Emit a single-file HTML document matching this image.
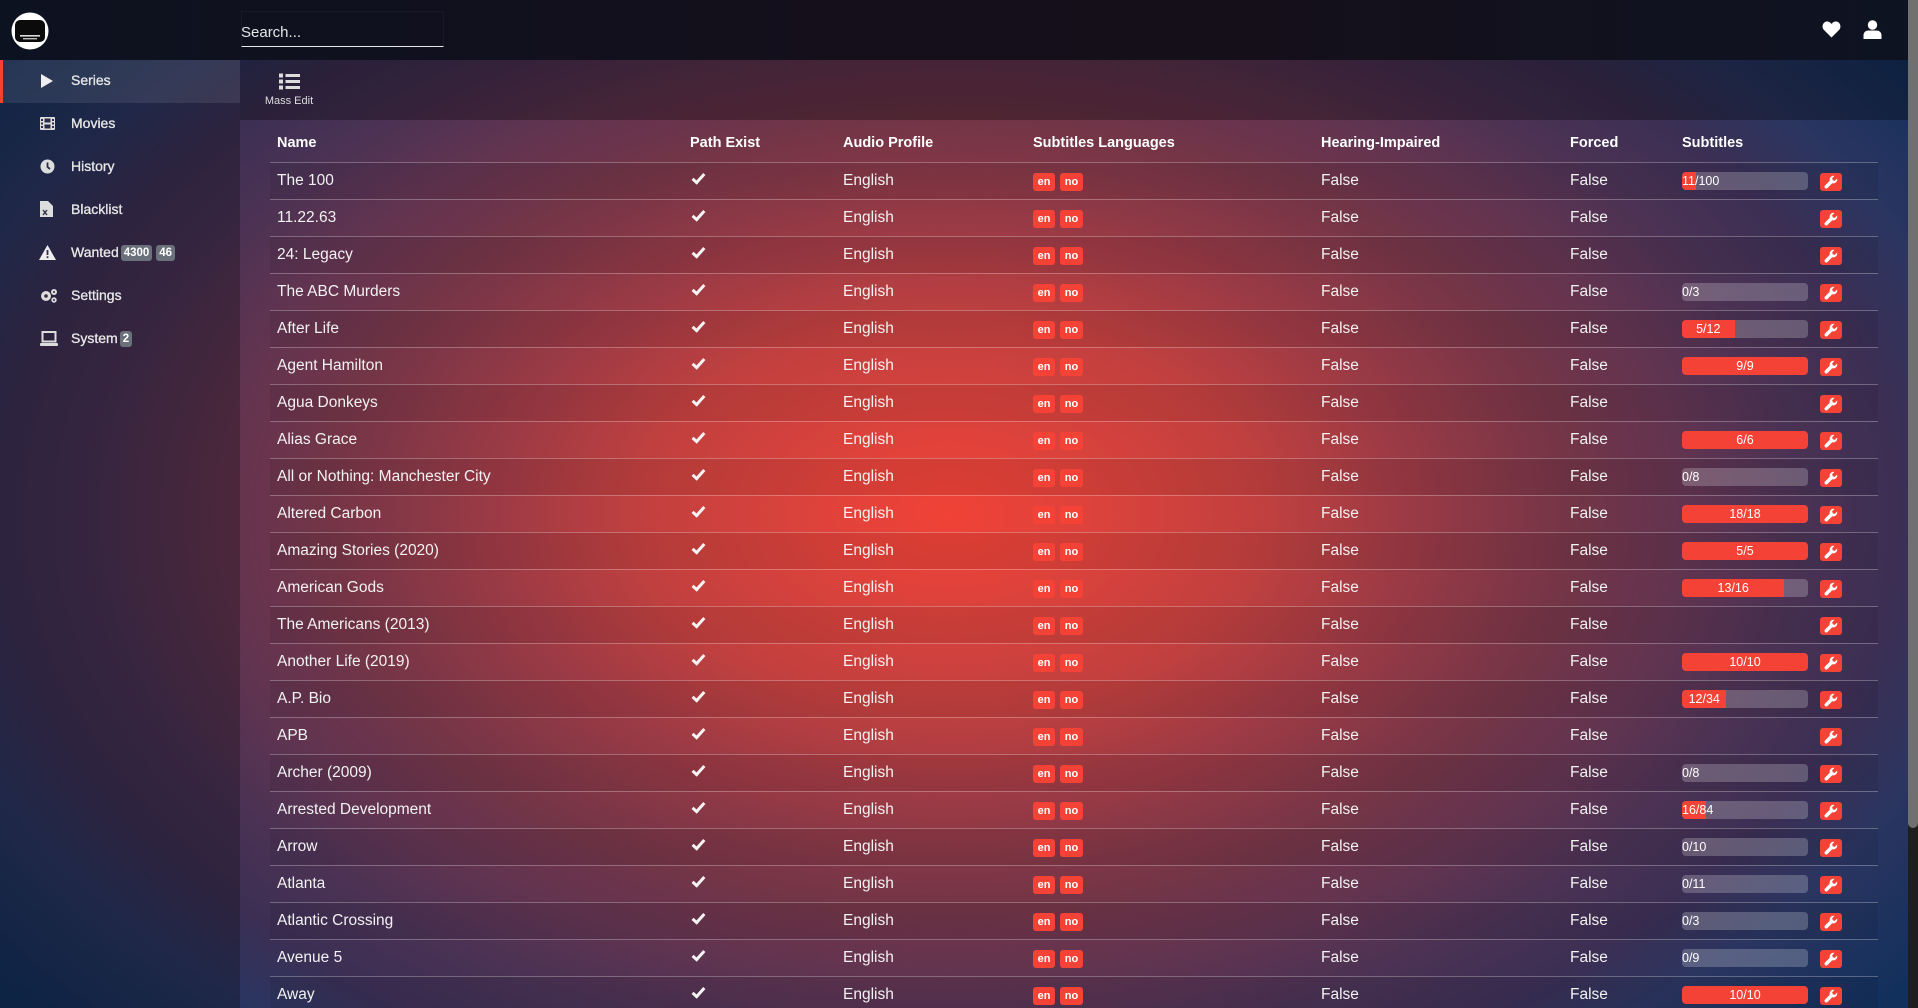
<!DOCTYPE html>
<html><head><meta charset="utf-8">
<style>
*{margin:0;padding:0;box-sizing:border-box}
html,body{width:1918px;height:1008px;overflow:hidden}
body{position:relative;font-family:"Liberation Sans",Arial,sans-serif;color:#f1f1f1;
background:#102e5a radial-gradient(1216px 760px at 950px 515px,#f04236 0%,#e0423b 10%,#c0403f 26%,#9a3a45 38%,#743547 51%,#633450 60%,#4a3254 70%,#3c2f54 78%,#2b3560 86%,#12305c 100%);}
.top{position:absolute;left:0;top:0;width:1908px;height:60px;background:linear-gradient(to right,#0d1220,#140f1b 45%,#150f1a 65%,#0e1322)}
.side{position:absolute;left:0;top:60px;width:240px;height:948px;background:rgba(0,0,0,.25)}
.tool{position:absolute;left:240px;top:60px;width:1668px;height:60px;background:rgba(0,0,0,.3)}
.sb{position:absolute;left:1908px;top:0;width:10px;height:1008px;background:#1e1e1e}
.sb div{position:absolute;left:0;top:0;width:10px;height:828px;background:#707070;border-radius:0 0 5px 5px}
.it{position:absolute;left:0;width:240px;height:43px;line-height:41px;font-size:14px;color:#e8e8e8;-webkit-text-stroke:.3px #e8e8e8}
.it.act{background:rgba(255,255,255,.09);border-left:3px solid #f44336}
.it svg{position:absolute;left:40px;top:13px}
.it span.t{position:absolute;left:71px}
.bd{display:inline-block;background:#6b717b;color:#fff;font-size:11.5px;font-weight:bold;padding:0 3px;border-radius:3px;line-height:16px;height:16px;vertical-align:1px;-webkit-text-stroke:0;margin-left:2px}
.hd{position:absolute;left:270px;top:125px;width:1608px;height:37px;line-height:37px;font-size:14.5px;font-weight:bold;color:#fff}
.hd span,.r span{position:absolute;white-space:nowrap}
.rows{position:absolute;left:270px;top:162px;width:1608px}
.r{position:relative;width:1608px;height:37px;border-top:1px solid rgba(255,255,255,.28);line-height:35px;font-size:15.5px;color:#f2f2f2}
.r:nth-child(odd){background:rgba(0,0,0,.07)}
.n{left:7px}.pe{left:420px}.a{left:573px}.l{left:763px}.h{left:1051px}.f{left:1300px}.s{left:1412px}
.ck{position:absolute;left:425px;top:8px;width:7px;height:13px;border-right:3.2px solid #f4f4f4;border-bottom:3.2px solid #f4f4f4;transform:rotate(42deg)}
.bg{position:absolute;top:10px;height:18px;line-height:18px;background:#f44336;color:#fff;font-size:11px;font-weight:bold;text-align:center;border-radius:3px}
.en{left:763px;width:22px}.no{left:790px;width:23px}
.p{position:absolute;left:1412px;top:9px;width:126px;height:18px;border-radius:4px;background:rgba(255,255,255,.22);overflow:hidden}
.p div{height:18px;background:#f44336;line-height:18px;font-size:12.5px;color:#fff;text-align:center;white-space:nowrap;overflow:visible}
.w{position:absolute;left:1550px;top:10px;width:22px;height:18px;background:#f44336;border-radius:3px}
.w svg{position:absolute;left:4px;top:2px}
</style></head><body>
<div class="top">
  <svg style="position:absolute;left:11px;top:12px" width="38" height="38" viewBox="0 0 38 38">
    <circle cx="19" cy="19" r="18.5" fill="#fff"/>
    <rect x="4" y="8" width="30" height="22" rx="5" fill="#0b0b0b"/>
    <rect x="9" y="23" width="20" height="1.6" fill="#ddd"/>
    <rect x="12" y="26" width="14" height="1.4" fill="#bbb"/>
  </svg>
  <div style="position:absolute;left:241px;top:11px;width:203px;height:36px;border:1px solid rgba(255,255,255,.03);border-bottom:1.5px solid #e6e6e6"></div>
  <div style="position:absolute;left:241px;top:22px;font-size:15px;line-height:21px;color:#e6e6e6">Search...</div>
  <svg style="position:absolute;left:1822px;top:21px" width="19" height="17" viewBox="0 0 19 17"><path d="M9.5 16.5 L2 9 C-1 6 1 0.5 5.2 0.5 C7.3 0.5 8.6 1.8 9.5 3 C10.4 1.8 11.7 0.5 13.8 0.5 C18 0.5 20 6 17 9 Z" fill="#fff"/></svg>
  <svg style="position:absolute;left:1863px;top:20px" width="19" height="19" viewBox="0 0 19 19"><circle cx="9.5" cy="5" r="4.7" fill="#fff"/><path d="M0.5 19 L0.5 15.5 C0.5 12 3 10.5 5.5 10.5 L13.5 10.5 C16 10.5 18.5 12 18.5 15.5 L18.5 19 Z" fill="#fff"/></svg>
</div>
<div class="side">
  <div class="it act" style="top:0"><svg width="14" height="16" viewBox="0 0 14 16" style="left:37px"><path d="M1 1 L13 8 L1 15Z" fill="#eee"/></svg><span class="t" style="left:68px">Series</span></div>
  <div class="it" style="top:43px"><svg width="15" height="13" viewBox="0 0 15 13" style="top:14px"><rect width="15" height="13" rx="1" fill="#ddd"/><rect x="4.5" y="1.5" width="6" height="4" fill="#2b2c48"/><rect x="4.5" y="7.5" width="6" height="4" fill="#2b2c48"/><rect x="1" y="2" width="2" height="2" fill="#2b2c48"/><rect x="1" y="5.5" width="2" height="2" fill="#2b2c48"/><rect x="1" y="9" width="2" height="2" fill="#2b2c48"/><rect x="12" y="2" width="2" height="2" fill="#2b2c48"/><rect x="12" y="5.5" width="2" height="2" fill="#2b2c48"/><rect x="12" y="9" width="2" height="2" fill="#2b2c48"/></svg><span class="t">Movies</span></div>
  <div class="it" style="top:86px"><svg width="15" height="15" viewBox="0 0 15 15"><circle cx="7.5" cy="7.5" r="7" fill="#ddd"/><path d="M7.5 3.5 V8 L10 10" stroke="#2b2c48" stroke-width="1.8" fill="none"/></svg><span class="t">History</span></div>
  <div class="it" style="top:129px"><svg width="13" height="16" viewBox="0 0 13 16" style="top:12px"><path d="M0 0 H8 L13 5 V16 H0Z" fill="#ddd"/><path d="M3 9 L7 14 M7 9 L3 14" stroke="#2b2c48" stroke-width="1.4"/></svg><span class="t">Blacklist</span></div>
  <div class="it" style="top:172px"><svg width="17" height="15" viewBox="0 0 17 15" style="left:39px"><path d="M8.5 0 L17 15 H0Z" fill="#eee"/><rect x="7.6" y="5" width="1.8" height="5" fill="#3a2a44"/><rect x="7.6" y="11.3" width="1.8" height="1.8" fill="#3a2a44"/></svg><span class="t">Wanted<span class="bd">4300</span> <span class="bd" style="margin-left:0">46</span></span></div>
  <div class="it" style="top:215px"><svg width="18" height="15" viewBox="0 0 18 15"><circle cx="6" cy="8" r="5" fill="#ddd"/><circle cx="6" cy="8" r="1.8" fill="#3a2a44"/><circle cx="14" cy="4" r="3" fill="#ddd"/><circle cx="14" cy="12" r="2.7" fill="#ddd"/><circle cx="14" cy="4" r="1" fill="#3a2a44"/><circle cx="14" cy="12" r="1" fill="#3a2a44"/></svg><span class="t">Settings</span></div>
  <div class="it" style="top:258px"><svg width="18" height="15" viewBox="0 0 18 15"><rect x="2.5" y="1" width="13" height="9.5" fill="none" stroke="#ddd" stroke-width="2"/><rect x="0" y="12" width="18" height="3" rx="1" fill="#ddd"/></svg><span class="t">System<span class="bd">2</span></span></div>
</div>
<div class="tool">
  <svg style="position:absolute;left:39px;top:13px" width="21" height="17" viewBox="0 0 21 17"><rect x="0" y="0.5" width="4" height="4" fill="#ddd"/><rect x="6.5" y="1" width="14.5" height="3" fill="#ddd"/><rect x="0" y="6.5" width="4" height="4" fill="#ddd"/><rect x="6.5" y="7" width="14.5" height="3" fill="#ddd"/><rect x="0" y="12.5" width="4" height="4" fill="#ddd"/><rect x="6.5" y="13" width="14.5" height="3" fill="#ddd"/></svg>
  <div style="position:absolute;left:24px;top:34px;width:50px;text-align:center;font-size:11px;line-height:14px;color:#ddd">Mass Edit</div>
</div>
<div class="hd"><span class="n">Name</span><span class="pe">Path Exist</span><span class="a">Audio Profile</span><span class="l">Subtitles Languages</span><span class="h">Hearing-Impaired</span><span class="f">Forced</span><span class="s">Subtitles</span></div>
<div class="rows">
<div class="r"><span class="n">The 100</span><i class="ck"></i><span class="a">English</span><b class="bg en">en</b><b class="bg no">no</b><span class="h">False</span><span class="f">False</span><div class="p"><div style="width:11%">11/100</div></div><i class="w"><svg width="14" height="14" viewBox="0 0 16 16"><path d="M15 4 L12.3 6.7 10 6 9.3 3.7 12 1 A4.5 4.5 0 0 0 6.6 6.6 L1.2 12 A1.6 1.6 0 0 0 4 14.8 L9.4 9.4 A4.5 4.5 0 0 0 15 4Z" fill="#fff"/></svg></i></div>
<div class="r"><span class="n">11.22.63</span><i class="ck"></i><span class="a">English</span><b class="bg en">en</b><b class="bg no">no</b><span class="h">False</span><span class="f">False</span><i class="w"><svg width="14" height="14" viewBox="0 0 16 16"><path d="M15 4 L12.3 6.7 10 6 9.3 3.7 12 1 A4.5 4.5 0 0 0 6.6 6.6 L1.2 12 A1.6 1.6 0 0 0 4 14.8 L9.4 9.4 A4.5 4.5 0 0 0 15 4Z" fill="#fff"/></svg></i></div>
<div class="r"><span class="n">24: Legacy</span><i class="ck"></i><span class="a">English</span><b class="bg en">en</b><b class="bg no">no</b><span class="h">False</span><span class="f">False</span><i class="w"><svg width="14" height="14" viewBox="0 0 16 16"><path d="M15 4 L12.3 6.7 10 6 9.3 3.7 12 1 A4.5 4.5 0 0 0 6.6 6.6 L1.2 12 A1.6 1.6 0 0 0 4 14.8 L9.4 9.4 A4.5 4.5 0 0 0 15 4Z" fill="#fff"/></svg></i></div>
<div class="r"><span class="n">The ABC Murders</span><i class="ck"></i><span class="a">English</span><b class="bg en">en</b><b class="bg no">no</b><span class="h">False</span><span class="f">False</span><div class="p"><div style="width:0%">0/3</div></div><i class="w"><svg width="14" height="14" viewBox="0 0 16 16"><path d="M15 4 L12.3 6.7 10 6 9.3 3.7 12 1 A4.5 4.5 0 0 0 6.6 6.6 L1.2 12 A1.6 1.6 0 0 0 4 14.8 L9.4 9.4 A4.5 4.5 0 0 0 15 4Z" fill="#fff"/></svg></i></div>
<div class="r"><span class="n">After Life</span><i class="ck"></i><span class="a">English</span><b class="bg en">en</b><b class="bg no">no</b><span class="h">False</span><span class="f">False</span><div class="p"><div style="width:41.7%">5/12</div></div><i class="w"><svg width="14" height="14" viewBox="0 0 16 16"><path d="M15 4 L12.3 6.7 10 6 9.3 3.7 12 1 A4.5 4.5 0 0 0 6.6 6.6 L1.2 12 A1.6 1.6 0 0 0 4 14.8 L9.4 9.4 A4.5 4.5 0 0 0 15 4Z" fill="#fff"/></svg></i></div>
<div class="r"><span class="n">Agent Hamilton</span><i class="ck"></i><span class="a">English</span><b class="bg en">en</b><b class="bg no">no</b><span class="h">False</span><span class="f">False</span><div class="p"><div style="width:100%">9/9</div></div><i class="w"><svg width="14" height="14" viewBox="0 0 16 16"><path d="M15 4 L12.3 6.7 10 6 9.3 3.7 12 1 A4.5 4.5 0 0 0 6.6 6.6 L1.2 12 A1.6 1.6 0 0 0 4 14.8 L9.4 9.4 A4.5 4.5 0 0 0 15 4Z" fill="#fff"/></svg></i></div>
<div class="r"><span class="n">Agua Donkeys</span><i class="ck"></i><span class="a">English</span><b class="bg en">en</b><b class="bg no">no</b><span class="h">False</span><span class="f">False</span><i class="w"><svg width="14" height="14" viewBox="0 0 16 16"><path d="M15 4 L12.3 6.7 10 6 9.3 3.7 12 1 A4.5 4.5 0 0 0 6.6 6.6 L1.2 12 A1.6 1.6 0 0 0 4 14.8 L9.4 9.4 A4.5 4.5 0 0 0 15 4Z" fill="#fff"/></svg></i></div>
<div class="r"><span class="n">Alias Grace</span><i class="ck"></i><span class="a">English</span><b class="bg en">en</b><b class="bg no">no</b><span class="h">False</span><span class="f">False</span><div class="p"><div style="width:100%">6/6</div></div><i class="w"><svg width="14" height="14" viewBox="0 0 16 16"><path d="M15 4 L12.3 6.7 10 6 9.3 3.7 12 1 A4.5 4.5 0 0 0 6.6 6.6 L1.2 12 A1.6 1.6 0 0 0 4 14.8 L9.4 9.4 A4.5 4.5 0 0 0 15 4Z" fill="#fff"/></svg></i></div>
<div class="r"><span class="n">All or Nothing: Manchester City</span><i class="ck"></i><span class="a">English</span><b class="bg en">en</b><b class="bg no">no</b><span class="h">False</span><span class="f">False</span><div class="p"><div style="width:0%">0/8</div></div><i class="w"><svg width="14" height="14" viewBox="0 0 16 16"><path d="M15 4 L12.3 6.7 10 6 9.3 3.7 12 1 A4.5 4.5 0 0 0 6.6 6.6 L1.2 12 A1.6 1.6 0 0 0 4 14.8 L9.4 9.4 A4.5 4.5 0 0 0 15 4Z" fill="#fff"/></svg></i></div>
<div class="r"><span class="n">Altered Carbon</span><i class="ck"></i><span class="a">English</span><b class="bg en">en</b><b class="bg no">no</b><span class="h">False</span><span class="f">False</span><div class="p"><div style="width:100%">18/18</div></div><i class="w"><svg width="14" height="14" viewBox="0 0 16 16"><path d="M15 4 L12.3 6.7 10 6 9.3 3.7 12 1 A4.5 4.5 0 0 0 6.6 6.6 L1.2 12 A1.6 1.6 0 0 0 4 14.8 L9.4 9.4 A4.5 4.5 0 0 0 15 4Z" fill="#fff"/></svg></i></div>
<div class="r"><span class="n">Amazing Stories (2020)</span><i class="ck"></i><span class="a">English</span><b class="bg en">en</b><b class="bg no">no</b><span class="h">False</span><span class="f">False</span><div class="p"><div style="width:100%">5/5</div></div><i class="w"><svg width="14" height="14" viewBox="0 0 16 16"><path d="M15 4 L12.3 6.7 10 6 9.3 3.7 12 1 A4.5 4.5 0 0 0 6.6 6.6 L1.2 12 A1.6 1.6 0 0 0 4 14.8 L9.4 9.4 A4.5 4.5 0 0 0 15 4Z" fill="#fff"/></svg></i></div>
<div class="r"><span class="n">American Gods</span><i class="ck"></i><span class="a">English</span><b class="bg en">en</b><b class="bg no">no</b><span class="h">False</span><span class="f">False</span><div class="p"><div style="width:81.25%">13/16</div></div><i class="w"><svg width="14" height="14" viewBox="0 0 16 16"><path d="M15 4 L12.3 6.7 10 6 9.3 3.7 12 1 A4.5 4.5 0 0 0 6.6 6.6 L1.2 12 A1.6 1.6 0 0 0 4 14.8 L9.4 9.4 A4.5 4.5 0 0 0 15 4Z" fill="#fff"/></svg></i></div>
<div class="r"><span class="n">The Americans (2013)</span><i class="ck"></i><span class="a">English</span><b class="bg en">en</b><b class="bg no">no</b><span class="h">False</span><span class="f">False</span><i class="w"><svg width="14" height="14" viewBox="0 0 16 16"><path d="M15 4 L12.3 6.7 10 6 9.3 3.7 12 1 A4.5 4.5 0 0 0 6.6 6.6 L1.2 12 A1.6 1.6 0 0 0 4 14.8 L9.4 9.4 A4.5 4.5 0 0 0 15 4Z" fill="#fff"/></svg></i></div>
<div class="r"><span class="n">Another Life (2019)</span><i class="ck"></i><span class="a">English</span><b class="bg en">en</b><b class="bg no">no</b><span class="h">False</span><span class="f">False</span><div class="p"><div style="width:100%">10/10</div></div><i class="w"><svg width="14" height="14" viewBox="0 0 16 16"><path d="M15 4 L12.3 6.7 10 6 9.3 3.7 12 1 A4.5 4.5 0 0 0 6.6 6.6 L1.2 12 A1.6 1.6 0 0 0 4 14.8 L9.4 9.4 A4.5 4.5 0 0 0 15 4Z" fill="#fff"/></svg></i></div>
<div class="r"><span class="n">A.P. Bio</span><i class="ck"></i><span class="a">English</span><b class="bg en">en</b><b class="bg no">no</b><span class="h">False</span><span class="f">False</span><div class="p"><div style="width:35.3%">12/34</div></div><i class="w"><svg width="14" height="14" viewBox="0 0 16 16"><path d="M15 4 L12.3 6.7 10 6 9.3 3.7 12 1 A4.5 4.5 0 0 0 6.6 6.6 L1.2 12 A1.6 1.6 0 0 0 4 14.8 L9.4 9.4 A4.5 4.5 0 0 0 15 4Z" fill="#fff"/></svg></i></div>
<div class="r"><span class="n">APB</span><i class="ck"></i><span class="a">English</span><b class="bg en">en</b><b class="bg no">no</b><span class="h">False</span><span class="f">False</span><i class="w"><svg width="14" height="14" viewBox="0 0 16 16"><path d="M15 4 L12.3 6.7 10 6 9.3 3.7 12 1 A4.5 4.5 0 0 0 6.6 6.6 L1.2 12 A1.6 1.6 0 0 0 4 14.8 L9.4 9.4 A4.5 4.5 0 0 0 15 4Z" fill="#fff"/></svg></i></div>
<div class="r"><span class="n">Archer (2009)</span><i class="ck"></i><span class="a">English</span><b class="bg en">en</b><b class="bg no">no</b><span class="h">False</span><span class="f">False</span><div class="p"><div style="width:0%">0/8</div></div><i class="w"><svg width="14" height="14" viewBox="0 0 16 16"><path d="M15 4 L12.3 6.7 10 6 9.3 3.7 12 1 A4.5 4.5 0 0 0 6.6 6.6 L1.2 12 A1.6 1.6 0 0 0 4 14.8 L9.4 9.4 A4.5 4.5 0 0 0 15 4Z" fill="#fff"/></svg></i></div>
<div class="r"><span class="n">Arrested Development</span><i class="ck"></i><span class="a">English</span><b class="bg en">en</b><b class="bg no">no</b><span class="h">False</span><span class="f">False</span><div class="p"><div style="width:19%">16/84</div></div><i class="w"><svg width="14" height="14" viewBox="0 0 16 16"><path d="M15 4 L12.3 6.7 10 6 9.3 3.7 12 1 A4.5 4.5 0 0 0 6.6 6.6 L1.2 12 A1.6 1.6 0 0 0 4 14.8 L9.4 9.4 A4.5 4.5 0 0 0 15 4Z" fill="#fff"/></svg></i></div>
<div class="r"><span class="n">Arrow</span><i class="ck"></i><span class="a">English</span><b class="bg en">en</b><b class="bg no">no</b><span class="h">False</span><span class="f">False</span><div class="p"><div style="width:0%">0/10</div></div><i class="w"><svg width="14" height="14" viewBox="0 0 16 16"><path d="M15 4 L12.3 6.7 10 6 9.3 3.7 12 1 A4.5 4.5 0 0 0 6.6 6.6 L1.2 12 A1.6 1.6 0 0 0 4 14.8 L9.4 9.4 A4.5 4.5 0 0 0 15 4Z" fill="#fff"/></svg></i></div>
<div class="r"><span class="n">Atlanta</span><i class="ck"></i><span class="a">English</span><b class="bg en">en</b><b class="bg no">no</b><span class="h">False</span><span class="f">False</span><div class="p"><div style="width:0%">0/11</div></div><i class="w"><svg width="14" height="14" viewBox="0 0 16 16"><path d="M15 4 L12.3 6.7 10 6 9.3 3.7 12 1 A4.5 4.5 0 0 0 6.6 6.6 L1.2 12 A1.6 1.6 0 0 0 4 14.8 L9.4 9.4 A4.5 4.5 0 0 0 15 4Z" fill="#fff"/></svg></i></div>
<div class="r"><span class="n">Atlantic Crossing</span><i class="ck"></i><span class="a">English</span><b class="bg en">en</b><b class="bg no">no</b><span class="h">False</span><span class="f">False</span><div class="p"><div style="width:0%">0/3</div></div><i class="w"><svg width="14" height="14" viewBox="0 0 16 16"><path d="M15 4 L12.3 6.7 10 6 9.3 3.7 12 1 A4.5 4.5 0 0 0 6.6 6.6 L1.2 12 A1.6 1.6 0 0 0 4 14.8 L9.4 9.4 A4.5 4.5 0 0 0 15 4Z" fill="#fff"/></svg></i></div>
<div class="r"><span class="n">Avenue 5</span><i class="ck"></i><span class="a">English</span><b class="bg en">en</b><b class="bg no">no</b><span class="h">False</span><span class="f">False</span><div class="p"><div style="width:0%">0/9</div></div><i class="w"><svg width="14" height="14" viewBox="0 0 16 16"><path d="M15 4 L12.3 6.7 10 6 9.3 3.7 12 1 A4.5 4.5 0 0 0 6.6 6.6 L1.2 12 A1.6 1.6 0 0 0 4 14.8 L9.4 9.4 A4.5 4.5 0 0 0 15 4Z" fill="#fff"/></svg></i></div>
<div class="r"><span class="n">Away</span><i class="ck"></i><span class="a">English</span><b class="bg en">en</b><b class="bg no">no</b><span class="h">False</span><span class="f">False</span><div class="p"><div style="width:100%">10/10</div></div><i class="w"><svg width="14" height="14" viewBox="0 0 16 16"><path d="M15 4 L12.3 6.7 10 6 9.3 3.7 12 1 A4.5 4.5 0 0 0 6.6 6.6 L1.2 12 A1.6 1.6 0 0 0 4 14.8 L9.4 9.4 A4.5 4.5 0 0 0 15 4Z" fill="#fff"/></svg></i></div>
</div>
<div class="sb"><div></div></div>
</body></html>
